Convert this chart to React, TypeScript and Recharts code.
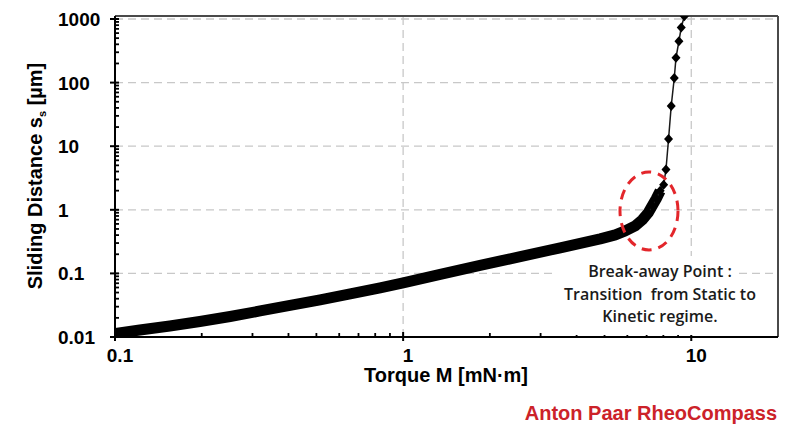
import React from 'react';
import { LineChart, Line, XAxis, YAxis, ReferenceLine } from 'recharts';

// Static regime (dense band of markers)
const torqueStatic = [0.1, 0.122, 0.155, 0.197, 0.251, 0.319, 0.405, 0.515, 0.655, 0.832, 1.0, 1.345, 1.85, 2.55, 3.51, 4.83, 5.45, 5.9, 6.39, 6.76, 7.09, 7.32, 7.56, 7.8];
const distanceStatic = [0.01135, 0.0129, 0.0149, 0.01754, 0.02103, 0.02567, 0.03133, 0.0383, 0.0475, 0.0591, 0.0708, 0.0964, 0.1336, 0.184, 0.253, 0.349, 0.404, 0.467, 0.56, 0.696, 0.897, 1.156, 1.49, 1.99];
// Transition / kinetic regime (separate markers)
const torqueKinetic = [8.02, 8.17, 8.34, 8.52, 8.73, 8.85, 9.06, 9.23, 9.46];
const distanceKinetic = [2.48, 4.3, 13, 43, 118, 245, 447, 735, 1107];

const xMajorTicks = [0.1, 1, 10];
const xTickLabels = ['0.1', '1', '10'];
const yMajorTicks = [0.01, 0.1, 1, 10, 100, 1000];
const yTickLabels = ['0.01', '0.1', '1', '10', '100', '1000'];
const xDomain = [0.1, 20];
const yDomain = [0.01, 1115];

const xTitle = 'Torque M [mN·m]';
const yTitleMain = 'Sliding Distance s';
const yTitleSub = 's';
const yTitleUnit = ' [µm]';
const annotationLines = ['Break-away Point :', 'Transition  from Static to', 'Kinetic regime.'];
const brand = 'Anton Paar RheoCompass';

const staticData = torqueStatic.map((m, i) => ({ m, s: distanceStatic[i] }));
const markerData = staticData.slice(-4).concat(torqueKinetic.map((m, i) => ({ m, s: distanceKinetic[i] })));

const minors = (majors: number[]) => {
  const out: number[] = [];
  majors.slice(0, -1).forEach((d) => {
    for (let k = 2; k <= 9; k++) out.push(+(d * k).toPrecision(6));
  });
  return out;
};
const xTicks = [...xMajorTicks, ...minors(xMajorTicks)].sort((a, b) => a - b);
const yTicks = [...yMajorTicks, ...minors(yMajorTicks)].sort((a, b) => a - b);

const FONT = 'Liberation Sans, Arial, sans-serif';

const XTick = (props: any) => {
  const { x, y, payload } = props;
  const idx = xMajorTicks.indexOf(payload.value);
  if (idx >= 0) {
    return (
      <g>
        <line x1={x} x2={x} y1={y - 5} y2={y + 4} stroke="#000" strokeWidth={2} />
        <text x={x + 5} y={y + 25} textAnchor="middle" fontFamily={FONT} fontWeight="bold" fontSize={19} fill="#000">
          {xTickLabels[idx]}
        </text>
      </g>
    );
  }
  return <line x1={x} x2={x} y1={y - 4} y2={y} stroke="#000" strokeWidth={1.8} />;
};

const YTick = (props: any) => {
  const { x, y, payload } = props;
  const idx = yMajorTicks.indexOf(payload.value);
  if (idx >= 0) {
    return (
      <g>
        <line x1={x - 5} x2={x + 4} y1={y} y2={y} stroke="#000" strokeWidth={2} />
        <text x={58} y={y + 7} textAnchor="start" fontFamily={FONT} fontWeight="bold" fontSize={19} fill="#000">
          {yTickLabels[idx]}
        </text>
      </g>
    );
  }
  return <line x1={x} x2={x + 4} y1={y} y2={y} stroke="#000" strokeWidth={1.8} />;
};

const Diamond = (props: any) => {
  const { cx, cy, index } = props;
  if (cx == null || cy == null) return <g key={index} />;
  return (
    <polygon
      key={index}
      points={`${cx},${cy - 5} ${cx + 4.5},${cy} ${cx},${cy + 5} ${cx - 4.5},${cy}`}
      fill="#000"
    />
  );
};

const gridStyle = { stroke: '#c8c8c8', strokeWidth: 1.3, strokeDasharray: '8 5' };

export default function App() {
  return (
    <div style={{ position: 'absolute', left: 0, top: 0, width: 800, height: 430, background: '#fff' }}>
      <LineChart width={800} height={430} margin={{ top: 16, right: 22, bottom: 63, left: 0 }}>
        <XAxis
          dataKey="m"
          type="number"
          scale="log"
          domain={xDomain}
          allowDataOverflow
          ticks={xTicks}
          interval={0}
          tick={(p: any) => <XTick {...p} />}
          tickLine={false}
          tickSize={0}
          tickMargin={0}
          height={30}
          axisLine={{ stroke: '#000', strokeWidth: 2 }}
        />
        <YAxis
          dataKey="s"
          type="number"
          scale="log"
          domain={yDomain}
          allowDataOverflow
          ticks={yTicks}
          interval={0}
          tick={(p: any) => <YTick {...p} />}
          tickLine={false}
          tickSize={0}
          tickMargin={0}
          width={115}
          axisLine={{ stroke: '#000', strokeWidth: 2 }}
        />
        {yMajorTicks.slice(1).map((v) => (
          <ReferenceLine key={'gy' + v} y={v} {...gridStyle} />
        ))}
        {xMajorTicks.slice(1).map((v) => (
          <ReferenceLine key={'gx' + v} x={v} {...gridStyle} />
        ))}
        <ReferenceLine y={yDomain[1]} stroke="#4a4a4a" strokeWidth={2} />
        <ReferenceLine x={xDomain[1]} stroke="#4a4a4a" strokeWidth={2} />
        <Line
          data={staticData}
          dataKey="s"
          stroke="#000"
          strokeWidth={11}
          strokeLinejoin="round"
          dot={false}
          activeDot={false}
          isAnimationActive={false}
          type="linear"
        />
        <Line
          data={markerData}
          dataKey="s"
          stroke="#1a1a1a"
          strokeWidth={1.5}
          dot={(p: any) => <Diamond {...p} />}
          activeDot={false}
          isAnimationActive={false}
          type="linear"
        />
      </LineChart>
      <svg width={800} height={430} style={{ position: 'absolute', left: 0, top: 0, pointerEvents: 'none' }}>
        <rect x={555} y={256} width={183} height={79} fill="#fff" />
        {annotationLines.map((t, i) => (
          <text
            key={i}
            x={660}
            y={277 + i * 22.5}
            textAnchor="middle"
            fontFamily="Open Sans, sans-serif"
            fontWeight={600}
            fontSize={16}
            fill="#1a1a1a"
            style={{ whiteSpace: 'pre' }}
          >
            {t}
          </text>
        ))}
        <ellipse cx={649} cy={211} rx={29} ry={39} fill="none" stroke="#e3262b" strokeWidth={3} strokeDasharray="10 7" />
        <text transform="translate(42,176) rotate(-90)" textAnchor="middle" fontFamily={FONT} fontWeight="bold" fontSize={20} fill="#000">
          {yTitleMain}
          <tspan fontSize={11} dy={4}>{yTitleSub}</tspan>
          <tspan dy={-4}>{yTitleUnit}</tspan>
        </text>
        <text x={446} y={382} textAnchor="middle" fontFamily={FONT} fontWeight="bold" fontSize={20} fill="#000">
          {xTitle}
        </text>
        <text x={777} y={420} textAnchor="end" fontFamily={FONT} fontWeight="bold" fontSize={20} fill="#cc2229">
          {brand}
        </text>
      </svg>
    </div>
  );
}
